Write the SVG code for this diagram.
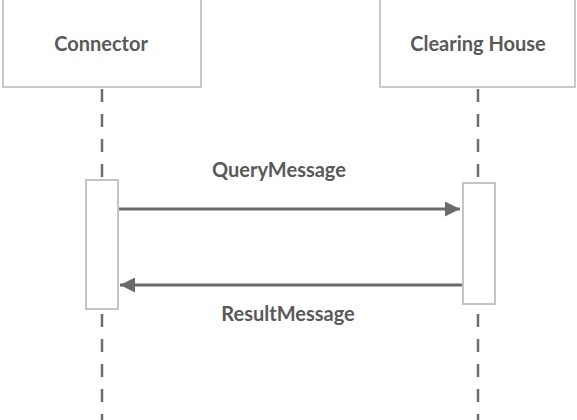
<svg xmlns="http://www.w3.org/2000/svg" width="577" height="420" viewBox="0 0 577 420">
<style>
.box{fill:#fff;stroke:#c9c9c9;stroke-width:2}
.act{fill:#fff;stroke:#c4c4c4;stroke-width:2}
.life{stroke:#6e6e6e;stroke-width:2.5;stroke-dasharray:13 12;fill:none}
.msg{stroke:#6a6a6a;stroke-width:3;fill:none}
text{font-family:Lato,"Open Sans",sans-serif;font-weight:bold;font-size:20px;fill:#595959;text-anchor:middle}
</style>
<defs>
<marker id="ah" viewBox="0 0 10 10" refX="10" refY="5" markerWidth="7.5" markerHeight="5" markerUnits="strokeWidth" orient="auto">
<path d="M0,0 L10,5 L0,10 z" fill="#6a6a6a"/>
</marker>
</defs>
<rect width="577" height="420" fill="#fff"/>
<g id="lifelines">
<line class="life" x1="102" y1="89" x2="102" y2="420"/>
<line class="life" x1="478" y1="89" x2="478" y2="420"/>
</g>
<g id="connector">
<rect class="box" x="3" y="-2" width="198" height="89"/>
<text x="101" y="51">Connector</text>
</g>
<g id="clearing-house">
<rect class="box" x="380" y="-2" width="195" height="89"/>
<text x="478" y="51">Clearing House</text>
</g>
<g id="act-connector">
<rect class="act" x="86" y="180" width="32" height="129"/>
</g>
<g id="act-clearing">
<rect class="act" x="463" y="183" width="32" height="121"/>
</g>
<g id="connectors">
<line class="msg" x1="119" y1="209" x2="460" y2="209" marker-end="url(#ah)"/>
<line class="msg" x1="462" y1="285" x2="120" y2="285" marker-end="url(#ah)"/>
<text x="279" y="177">QueryMessage</text>
<text x="288" y="321">ResultMessage</text>
</g>
</svg>
